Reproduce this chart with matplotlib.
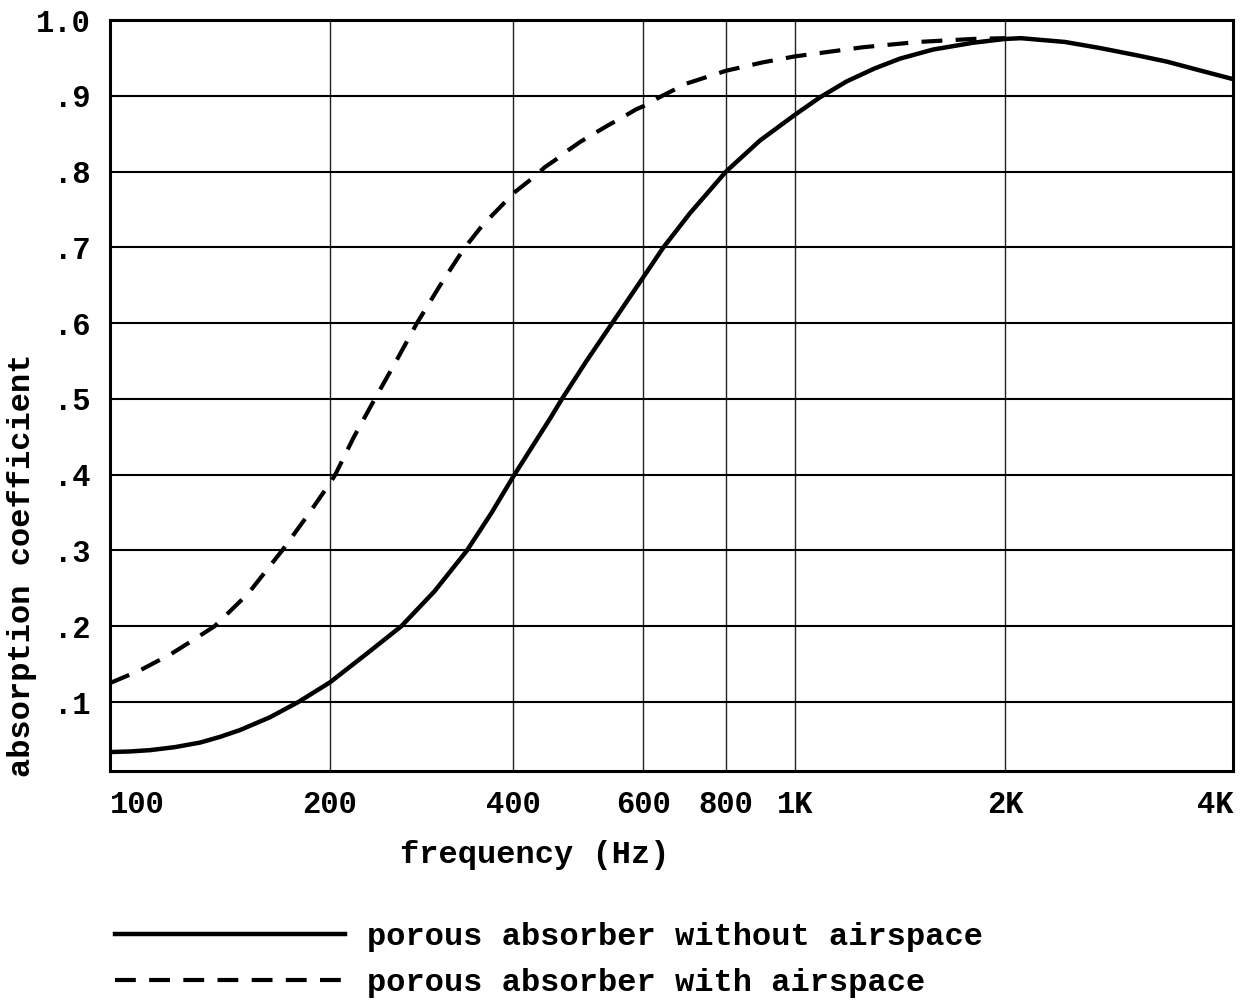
import numpy as np
import matplotlib
matplotlib.use("Agg")
import matplotlib.pyplot as plt
from matplotlib.lines import Line2D

# Absorption coefficient versus frequency, two porous absorber mountings
freq_solid = [100, 106.5, 113.4, 122.7, 132.8, 141.4, 150.6, 165.6, 181, 200,
              230, 262, 297, 336, 369, 400, 426, 449, 466, 503, 545, 600, 644,
              706, 800, 893, 1000, 1086, 1186, 1300, 1414, 1577, 1800, 2000,
              2100, 2400, 2670, 3000, 3274, 3600, 4000]
alpha_solid = [0.034, 0.0348, 0.0365, 0.0405, 0.0465, 0.054, 0.063, 0.080,
               0.100, 0.126, 0.164, 0.200, 0.246, 0.300, 0.350, 0.397, 0.439,
               0.474, 0.500, 0.550, 0.600, 0.660, 0.700, 0.745, 0.800, 0.841,
               0.875, 0.898, 0.919, 0.936, 0.949, 0.961, 0.970, 0.975, 0.976,
               0.971, 0.963, 0.953, 0.945, 0.934, 0.922]

freq_dashed = [100, 110, 121, 128.6, 139, 154.5, 172, 186.6, 200, 204, 219,
               237, 257, 278, 303, 315, 332, 357, 381, 400, 426, 442, 456,
               475, 493, 519, 538, 564, 587, 600, 635, 697, 726, 800, 900,
               1000, 1250, 1500, 1800, 2000]
alpha_dashed = [0.125, 0.142, 0.163, 0.179, 0.200, 0.243, 0.300, 0.347, 0.389,
                0.400, 0.450, 0.500, 0.550, 0.600, 0.649, 0.670, 0.698, 0.730,
                0.753, 0.771, 0.792, 0.806, 0.815, 0.828, 0.839, 0.852, 0.861,
                0.872, 0.882, 0.886, 0.898, 0.916, 0.921, 0.933, 0.944, 0.952,
                0.964, 0.971, 0.975, 0.976]

x_ticks = [100, 200, 400, 600, 800, 1000, 2000, 4000]
x_tick_labels = ["100", "200", "400", "600", "800", "1K", "2K", "4K"]
y_ticks = [0.1, 0.2, 0.3, 0.4, 0.5, 0.6, 0.7, 0.8, 0.9, 1.0]
y_tick_labels = [".1", ".2", ".3", ".4", ".5", ".6", ".7", ".8", ".9", "1.0"]

label_solid = "porous absorber without airspace"
label_dashed = "porous absorber with airspace"

# Frequency axis of the ruled chart paper: octave spacing as printed
paper_freqs = np.log10([100, 200, 400, 600, 800, 1000, 2000, 4000])
paper_pos = np.array([0, 220, 403, 533, 616, 685, 895, 1123], dtype=float)


def paper_forward(f):
    f = np.clip(np.asarray(f, dtype=float), 1e-6, None)
    return np.interp(np.log10(f), paper_freqs, paper_pos)


def paper_inverse(p):
    return 10 ** np.interp(np.asarray(p, dtype=float), paper_pos, paper_freqs)


MONO = ["Liberation Mono", "DejaVu Sans Mono"]
FS = 23
TICK_FS = 22

W, H = 1246, 1002
fig = plt.figure(figsize=(W / 100, H / 100), dpi=100)
ax = fig.add_axes([110 / W, 1 - 771 / H, 1123 / W, 751 / H])

ax.set_xscale("function", functions=(paper_forward, paper_inverse))
ax.set_xlim(100, 4000)
ax.set_ylim(0.009, 1.0)

ax.plot(freq_solid, alpha_solid, color="black", lw=3.2,
        solid_capstyle="round", solid_joinstyle="round", zorder=3)
ax.plot(freq_dashed, alpha_dashed, color="black", lw=3.0,
        dashes=(5, 3.2), dash_capstyle="butt", dash_joinstyle="round",
        zorder=3)

ax.set_xticks(x_ticks)
ax.set_xticklabels(x_tick_labels)
ax.set_yticks(y_ticks)
ax.set_yticklabels(y_tick_labels)
ax.xaxis.set_minor_locator(matplotlib.ticker.NullLocator())
ax.tick_params(axis="both", length=0, labelsize=TICK_FS)
ax.tick_params(axis="x", pad=14)
ax.tick_params(axis="y", pad=14)
for lab in ax.get_xticklabels() + ax.get_yticklabels():
    lab.set_fontfamily(MONO)
    lab.set_fontweight("bold")
xl = ax.get_xticklabels()
xl[0].set_horizontalalignment("left")
xl[-1].set_horizontalalignment("right")

ax.grid(axis="y", color="black", lw=1.5)
ax.grid(axis="x", color="#222222", lw=1.0)
ax.set_axisbelow(True)
for s in ax.spines.values():
    s.set_linewidth(2.2)
    s.set_color("black")

fig.text(535 / W, 1 - 855 / H, "frequency (Hz)", ha="center", va="center",
         fontsize=FS, fontweight="bold", family=MONO)
fig.text(22 / W, 1 - 565 / H, "absorption coefficient", ha="center",
         va="center", rotation=90, fontsize=FS, fontweight="bold", family=MONO)

handles = [Line2D([], [], color="black", lw=3.2),
           Line2D([], [], color="black", lw=3.0, dashes=(5, 3.2))]
ax.legend(handles, [label_solid, label_dashed], loc="upper left",
          bbox_to_anchor=(115 / W, 1 - 922 / H), bbox_transform=fig.transFigure,
          frameon=False, borderpad=0, borderaxespad=0, handlelength=7.2,
          handletextpad=0.7, labelspacing=0.5,
          prop={"family": MONO, "size": FS, "weight": "bold"})

fig.savefig("out.png", dpi=100, facecolor="white")
